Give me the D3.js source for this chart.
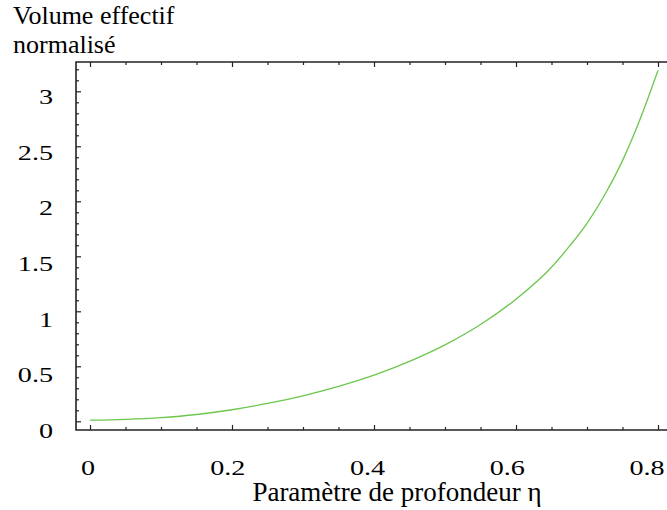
<!DOCTYPE html>
<html>
<head>
<meta charset="utf-8">
<script src="https://cdn.jsdelivr.net/npm/d3@7"></script>
<style>
  body { margin: 0; background: #fff; }
</style>
</head>
<body>
<div id="chart"></div>
<script>
// values
var eta = [0, 0.05, 0.1, 0.15, 0.2, 0.25, 0.3, 0.35, 0.4, 0.45, 0.5, 0.55, 0.6, 0.65, 0.675, 0.7, 0.725, 0.75, 0.775, 0.8];
var volume = [0.01, 0.018, 0.034, 0.062, 0.105, 0.162, 0.232, 0.317, 0.42, 0.545, 0.695, 0.88, 1.11, 1.40, 1.59, 1.80, 2.06, 2.37, 2.75, 3.19];
var xTickLabels = [0, 0.2, 0.4, 0.6, 0.8];
var yTickLabels = [0, 0.5, 1, 1.5, 2, 2.5, 3];
var yTitle = ["Volume effectif", "normalisé"];
var xTitle = "Paramètre de profondeur η";

var width = 667,
    height = 510;
var serif = "Liberation Serif";

var svg = d3.select("#chart")
    .append("svg")
        .attr("width", width)
        .attr("height", height)
        .attr("font-family", serif);

var frame = {left: 76, top: 62, bottom: 430, right: 700};

var scaleX = d3.scaleLinear()
    .domain([0, 0.8])
    .range([90, 658]);

var scaleY = d3.scaleLinear()
    .domain([0, 3])
    .range([421.3, 91.3]);

// labels sit on slightly compressed positions in the original
var labelX = d3.scaleLinear().domain([0, 0.8]).range([88, 647]);
var labelY = d3.scaleLinear().domain([0, 3]).range([438, 104]);

var xMinor = d3.range(0, 0.8001, 0.05).map(function(d) { return +d.toFixed(2); });
var yMinor = d3.range(0, 3.2001, 0.1).map(function(d) { return +d.toFixed(1); });
function isMajor(v, step) { return Math.abs(v / step - Math.round(v / step)) < 1e-6; }

// ticks point inward
function tickAxis(axis, values, transform) {
    var g = svg.append("g")
        .attr("transform", transform)
        .call(axis.tickValues(values).tickFormat("").tickSizeOuter(0));
    g.select(".domain").remove();
    g.selectAll(".tick line")
        .attr("stroke", "#222")
        .attr("stroke-width", 1.2);
    return g;
}

var bottomTicks = tickAxis(d3.axisBottom(scaleX).tickSize(-3), xMinor, "translate(0," + frame.bottom + ")");
bottomTicks.selectAll(".tick line").attr("y2", function(d) { return isMajor(d, 0.2) ? -5 : -3; });
var topTicks = tickAxis(d3.axisTop(scaleX).tickSize(-3), xMinor, "translate(0," + frame.top + ")");
topTicks.selectAll(".tick line").attr("y2", function(d) { return isMajor(d, 0.2) ? 5 : 3; });
var leftTicks = tickAxis(d3.axisLeft(scaleY).tickSize(-3), yMinor, "translate(" + frame.left + ",0)");
leftTicks.selectAll(".tick line").attr("x2", function(d) { return isMajor(d, 0.5) ? 5 : 3; });

// frame (right side falls outside the picture)
svg.append("path")
    .attr("d", "M" + frame.right + "," + frame.top + "H" + frame.left + "V" + frame.bottom + "H" + frame.right)
    .attr("fill", "none")
    .attr("stroke", "#222")
    .attr("stroke-width", 1.6);

var points = eta.map(function(d, i) { return [d, volume[i]]; });
svg.append("path")
    .datum(points)
    .attr("fill", "none")
    .attr("stroke", "#6cc64c")
    .attr("stroke-width", 1.3)
    .attr("d", d3.line()
        .x(function(d) { return scaleX(d[0]); })
        .y(function(d) { return scaleY(d[1]); })
        .curve(d3.curveMonotoneX));

// tick labels: digits are drawn wide in the original
svg.selectAll(".xlab")
    .data(xTickLabels)
    .enter()
    .append("text")
        .attr("transform", function(d) { return "translate(" + labelX(d) + ",475) scale(1.28,1)"; })
        .attr("text-anchor", "middle")
        .attr("font-size", 22)
        .text(function(d) { return d; });

svg.selectAll(".ylab")
    .data(yTickLabels)
    .enter()
    .append("text")
        .attr("transform", function(d) { return "translate(53," + labelY(d) + ") scale(1.28,1)"; })
        .attr("text-anchor", "end")
        .attr("font-size", 22)
        .text(function(d) { return d; });

svg.selectAll(".ytitle")
    .data(yTitle)
    .enter()
    .append("text")
        .attr("x", 13)
        .attr("y", function(d, i) { return 24 + i * 29; })
        .attr("font-size", 26)
        .text(function(d) { return d; });

svg.append("text")
    .attr("x", 397)
    .attr("y", 501)
    .attr("text-anchor", "middle")
    .attr("font-size", 27)
    .text(xTitle);
</script>
</body>
</html>
